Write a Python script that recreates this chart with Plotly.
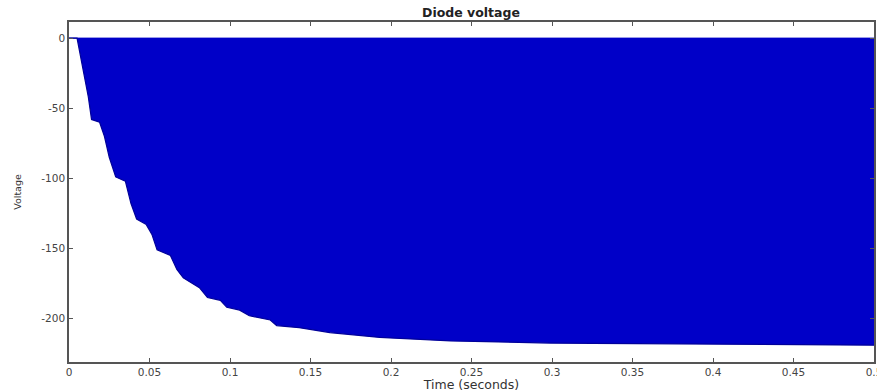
import plotly.graph_objects as go

# Envelope of the diode voltage: time (s) and lower peak (V)
time_s = [0.0, 0.005, 0.008, 0.012, 0.014, 0.019, 0.022, 0.025, 0.029, 0.035,
          0.0385, 0.042, 0.048, 0.0515, 0.0547, 0.063, 0.067, 0.071, 0.081, 0.086,
          0.094, 0.098, 0.106, 0.112, 0.125, 0.129, 0.143, 0.162, 0.193, 0.237,
          0.299, 0.361, 0.423, 0.5]
lower_v = [0.0, 0.0, -18, -42, -58, -60, -70, -85, -99, -102,
           -118, -129, -133, -140, -151, -155, -165, -171, -178, -185,
           -187, -192, -194, -198, -201, -205, -206.5, -210, -213.5, -216,
           -217.5, -218, -218.5, -219]
# Upper peak of the oscillation
upper_t = [0.0, 0.5]
upper_v = [0.0, 0.0]

x_ticks = [0, 0.05, 0.1, 0.15, 0.2, 0.25, 0.3, 0.35, 0.4, 0.45, 0.5]
x_labels = ["0", "0.05", "0.1", "0.15", "0.2", "0.25", "0.3", "0.35", "0.4", "0.45", "0.5"]
y_ticks = [0, -50, -100, -150, -200]
y_labels = ["0", "-50", "-100", "-150", "-200"]

BLUE = "#0000C8"
FONT = "DejaVu Sans"

fig = go.Figure()
fig.add_trace(go.Scatter(x=upper_t, y=upper_v, mode="lines",
                         line=dict(color=BLUE, width=1), showlegend=False,
                         hoverinfo="skip"))
fig.add_trace(go.Scatter(x=time_s, y=lower_v, mode="lines",
                         line=dict(color="#00009A", width=1.2), fill="tonexty",
                         fillcolor=BLUE, showlegend=False))

axis_common = dict(showline=True, linecolor="#555555", linewidth=1.5, mirror="ticks",
                   ticks="inside", ticklen=4, tickcolor="#555555", showgrid=False,
                   zeroline=False, ticklabeloverflow="allow", automargin=False,
                   tickfont=dict(family=FONT, size=10.5, color="#444444"))

fig.update_layout(
    width=877, height=392,
    margin=dict(l=69, r=3, t=22, b=30, autoexpand=False),
    paper_bgcolor="white", plot_bgcolor="white",
    title=dict(text="<b>Diode voltage</b>", x=0.537, xanchor="center", y=0.968, yanchor="middle",
               font=dict(family=FONT, size=12.5, color="#222222")),
    xaxis=dict(range=[0, 0.5], tickvals=x_ticks, ticktext=x_labels,
               title=dict(text="Time (seconds)", standoff=1,
                          font=dict(family=FONT, size=12.5, color="#333333")),
               **axis_common),
    yaxis=dict(range=[-231, 11.5], tickvals=y_ticks, ticktext=y_labels,
               title=dict(text="Voltage", standoff=18,
                          font=dict(family=FONT, size=9.5, color="#333333")),
               **axis_common),
)

fig.write_html("out.html")
